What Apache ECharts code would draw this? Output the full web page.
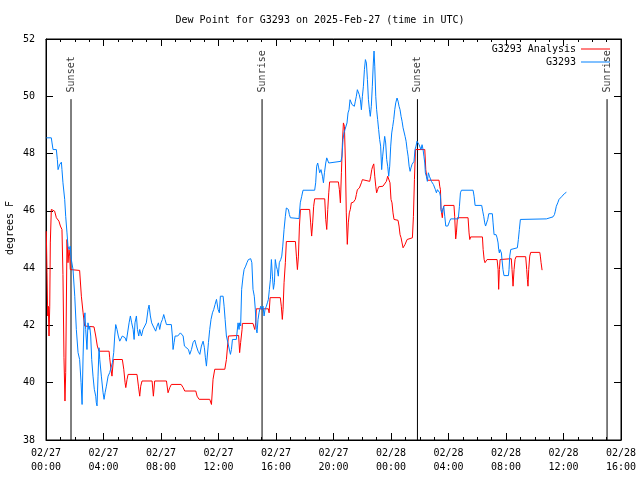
<!DOCTYPE html>
<html>
<head>
<meta charset="utf-8">
<script src="https://cdn.jsdelivr.net/npm/echarts@6/dist/echarts.min.js"></script>
<style>html,body{margin:0;padding:0;background:#fff}#c{width:640px;height:480px}</style>
</head>
<body>
<div id="c"></div>
<script>
// hours since 2025-02-27 00:00 UTC
const xTickHours = [0, 4, 8, 12, 16, 20, 24, 28, 32, 36, 40];
const yTicks = [38, 40, 42, 44, 46, 48, 50, 52];

const analysisHours = [0.02,0.07,0.12,0.16,0.21,0.26,0.30,0.37,0.49,0.60,0.72,0.90,1.00,1.11,1.18,1.25,1.32,1.37,1.46,1.53,1.60,1.65,1.69,2.34,2.46,2.58,2.69,3.34,3.46,3.57,3.69,4.39,4.43,4.52,4.59,4.69,5.31,5.41,5.50,5.55,5.64,5.71,6.33,6.43,6.52,6.59,6.68,7.38,7.47,7.56,8.38,8.49,8.61,8.72,9.40,9.54,9.65,10.42,10.51,10.65,11.39,11.51,11.62,11.74,12.44,12.55,12.69,13.40,13.47,13.54,13.64,13.66,14.40,14.45,14.52,14.59,14.63,15.47,15.52,15.59,16.30,16.37,16.44,16.49,16.56,16.65,16.72,17.35,17.42,17.49,17.56,17.63,17.70,18.34,18.41,18.48,18.55,18.62,18.69,19.39,19.46,19.53,19.60,19.67,19.73,20.34,20.41,20.48,20.55,20.62,20.69,20.76,20.83,20.89,20.96,21.03,21.10,21.17,21.24,21.38,21.45,21.52,21.59,21.66,21.80,21.87,21.94,22.01,22.08,22.52,22.59,22.66,22.73,22.80,22.87,22.94,23.00,23.07,23.14,23.44,23.56,23.68,23.77,23.86,23.93,24.00,24.07,24.14,24.21,24.28,24.49,24.56,24.63,24.70,24.77,24.84,24.91,24.98,25.05,25.12,25.19,25.49,25.56,25.63,25.70,26.35,26.42,26.48,26.55,27.34,27.39,27.44,27.48,27.57,27.62,27.69,28.38,28.43,28.50,28.55,28.62,29.36,29.43,29.48,29.54,30.36,30.41,30.48,30.54,30.59,30.68,31.38,31.45,31.49,31.54,31.59,31.66,32.37,32.42,32.49,32.56,32.63,32.70,33.37,33.44,33.49,33.53,33.58,33.65,33.72,34.35,34.39,34.44,34.51];
const analysisValues = [45.29,43.84,42.33,42.67,41.63,42.67,44.88,46.05,46.10,45.99,45.76,45.64,45.47,45.35,43.78,40.87,39.36,40.35,45.00,44.19,44.65,44.42,43.95,43.92,43.02,42.44,41.98,41.95,41.63,41.28,41.10,41.10,40.87,40.47,40.23,40.81,40.81,40.47,40.00,39.83,40.12,40.29,40.29,39.88,39.53,39.88,40.06,40.06,39.53,40.06,40.06,39.65,39.83,39.94,39.94,39.83,39.71,39.71,39.53,39.42,39.42,39.24,40.12,40.47,40.47,40.81,41.63,41.65,41.05,41.40,41.86,42.07,42.07,41.98,41.86,42.09,42.58,42.58,42.44,42.97,42.97,42.67,42.21,42.56,43.49,44.19,44.93,44.93,44.42,43.95,44.42,45.47,46.05,46.05,45.58,45.12,45.58,46.16,46.42,46.42,45.70,45.35,46.05,46.63,47.01,47.01,46.74,46.28,47.33,48.37,49.07,48.95,47.67,45.93,44.83,45.58,45.93,46.05,46.28,46.30,46.28,46.40,46.57,46.74,46.80,46.86,46.98,47.09,47.03,47.03,47.21,47.44,47.56,47.64,47.21,46.86,46.63,46.74,46.84,46.86,46.92,47.03,47.21,47.15,46.98,46.40,46.28,45.93,45.70,45.67,45.67,45.47,45.17,45.06,44.88,44.71,44.74,44.83,44.88,45.00,45.06,45.06,45.81,47.09,48.14,48.14,47.44,47.21,47.07,47.07,46.86,46.74,46.05,45.76,46.05,46.19,46.19,45.81,45.02,45.23,45.76,45.76,45.23,45.00,45.09,45.09,44.65,44.30,44.19,44.24,44.30,44.30,43.95,43.26,43.95,44.30,44.33,44.33,43.95,43.37,43.95,44.30,44.40,44.40,43.95,43.60,43.37,43.95,44.42,44.55,44.55,44.42,44.19,43.93];

const stationHours = [0.02,0.37,0.42,0.49,0.72,0.79,0.84,0.95,1.07,1.11,1.18,1.30,1.37,1.46,1.53,1.60,1.69,1.76,1.88,2.00,2.11,2.23,2.34,2.44,2.51,2.58,2.65,2.71,2.76,2.85,2.92,2.99,3.04,3.11,3.18,3.27,3.36,3.46,3.50,3.55,3.62,3.69,3.74,3.85,3.97,4.04,4.11,4.20,4.32,4.43,4.55,4.62,4.71,4.78,4.85,4.94,5.03,5.13,5.22,5.31,5.41,5.50,5.59,5.68,5.78,5.87,5.96,6.06,6.13,6.19,6.29,6.36,6.45,6.52,6.64,6.75,6.87,6.98,7.10,7.17,7.26,7.35,7.45,7.56,7.63,7.73,7.82,7.91,8.00,8.10,8.19,8.28,8.38,8.72,8.79,8.84,8.91,8.98,9.07,9.16,9.26,9.35,9.44,9.54,9.63,9.72,9.91,10.00,10.12,10.23,10.35,10.46,10.58,10.70,10.81,10.93,11.02,11.09,11.16,11.23,11.30,11.39,11.48,11.58,11.67,11.76,11.86,11.97,12.06,12.13,12.32,12.39,12.46,12.55,12.65,12.74,12.83,12.90,12.97,13.24,13.36,13.43,13.47,13.54,13.61,13.71,13.78,13.89,13.98,14.08,14.24,14.32,14.40,14.49,14.56,14.63,14.68,14.75,14.82,14.87,14.94,15.01,15.10,15.17,15.24,15.33,15.40,15.47,15.54,15.61,15.68,15.75,15.82,15.89,15.95,16.02,16.09,16.16,16.23,16.33,16.40,16.47,16.56,16.65,16.72,16.79,16.86,16.93,17.00,17.60,17.69,17.79,17.88,18.69,18.76,18.83,18.90,18.97,19.04,19.13,19.23,19.30,19.37,19.46,19.53,19.60,19.67,19.73,20.52,20.59,20.66,20.73,20.80,20.87,20.94,21.01,21.08,21.15,21.22,21.29,21.36,21.45,21.52,21.59,21.66,21.72,21.79,21.87,21.94,22.01,22.08,22.15,22.22,22.29,22.36,22.43,22.50,22.56,22.63,22.70,22.77,22.82,22.87,22.94,23.00,23.07,23.14,23.21,23.28,23.35,23.42,23.49,23.56,23.63,23.70,23.77,23.84,23.91,23.98,24.05,24.12,24.19,24.26,24.33,24.42,24.49,24.56,24.63,24.70,24.77,24.84,24.91,24.98,25.05,25.12,25.19,25.26,25.33,25.39,25.46,25.53,25.60,25.67,25.74,25.81,25.88,25.95,26.09,26.16,26.23,26.29,26.35,26.39,26.46,26.53,26.60,26.67,26.81,26.95,27.02,27.09,27.16,27.23,27.29,27.39,27.44,27.48,27.53,27.60,27.67,27.74,27.81,27.95,28.01,28.08,28.15,28.68,28.76,28.83,28.90,29.71,29.78,29.85,30.31,30.38,30.45,30.52,30.58,30.66,30.73,30.80,31.05,31.10,31.17,31.31,31.38,31.45,31.49,31.54,31.58,31.68,31.72,31.79,31.86,32.17,32.21,32.26,32.33,32.40,32.79,32.86,32.93,33.00,33.07,34.81,35.27,35.37,35.43,35.50,35.60,35.69,35.79,35.90,35.97,36.06,36.20];
const stationValues = [48.55,48.55,48.37,48.14,48.14,47.79,47.44,47.62,47.70,47.44,46.98,46.40,45.81,45.23,44.77,44.65,44.77,44.30,43.95,43.02,41.86,41.05,40.81,40.00,39.24,40.93,42.21,42.44,41.86,41.16,42.09,41.86,41.98,41.63,40.81,40.23,39.77,39.53,39.30,39.19,40.23,41.22,40.81,40.23,39.65,39.42,39.65,39.88,40.23,40.35,40.41,40.70,41.05,41.63,42.03,41.86,41.63,41.45,41.51,41.63,41.69,41.57,41.45,41.40,42.09,42.33,42.09,41.86,41.51,42.09,42.33,41.86,41.63,41.86,41.63,41.86,41.98,42.09,42.56,42.71,42.33,42.09,41.98,41.98,41.80,41.98,42.09,41.86,42.09,42.21,42.38,42.21,42.03,42.03,41.63,41.16,41.40,41.63,41.69,41.63,41.57,41.74,41.69,41.63,41.28,41.22,41.16,40.99,41.16,41.40,41.49,41.28,41.10,40.99,41.28,41.45,41.22,40.87,40.58,40.58,41.40,41.86,42.21,42.44,42.56,42.73,42.91,42.56,42.44,43.02,43.02,42.67,42.21,41.63,41.40,41.40,40.99,41.16,41.51,41.51,42.09,41.86,42.09,41.98,43.26,43.72,43.95,44.07,44.19,44.30,44.33,44.19,43.26,43.02,42.56,41.86,41.74,42.21,42.44,42.56,42.67,42.56,42.67,42.33,42.56,42.67,42.79,42.91,43.26,43.60,44.30,43.72,43.26,43.49,44.30,44.07,43.95,43.72,44.19,44.30,44.42,44.77,45.35,45.81,46.10,46.16,46.05,45.87,45.76,45.73,46.28,46.51,46.72,46.72,46.98,47.56,47.67,47.50,47.33,47.44,47.21,46.98,47.33,47.67,47.85,47.91,47.67,47.70,47.73,47.91,48.49,48.72,48.84,48.84,49.07,49.42,49.53,49.88,49.94,49.71,49.65,49.65,49.83,50.00,50.23,50.29,50.06,49.88,49.53,50.00,50.35,50.93,51.28,51.16,50.58,49.88,49.53,49.30,49.65,50.35,51.16,51.58,51.05,50.00,49.53,49.19,48.84,48.49,48.26,47.44,47.91,48.26,48.60,48.37,47.79,47.56,47.21,47.56,48.26,48.72,48.95,49.19,49.53,49.77,49.94,49.83,49.65,49.53,49.30,49.13,48.90,48.84,48.60,48.43,48.14,47.91,47.56,47.38,47.50,47.62,47.67,47.73,48.14,48.26,48.43,48.49,48.31,48.14,48.31,48.14,47.91,47.67,47.33,47.21,47.03,47.33,47.21,47.03,46.92,46.86,46.74,46.63,46.74,46.80,46.63,46.51,46.05,45.93,45.99,46.16,45.81,45.47,45.47,45.52,45.64,45.72,45.72,46.16,46.63,46.72,46.72,46.51,46.19,46.19,45.99,45.81,45.58,45.47,45.47,45.70,45.90,45.90,45.58,45.17,45.17,45.06,44.88,44.65,44.53,44.65,44.53,44.30,43.95,43.74,43.74,43.95,44.42,44.65,44.71,44.71,45.00,45.35,45.70,45.72,45.72,45.79,45.87,45.99,46.16,46.28,46.40,46.45,46.51,46.57,46.60,46.65];

const sunEventHours = [1.74, 15.03, 25.84, 39.03];
const sunEventNames = ['Sunset', 'Sunrise', 'Sunset', 'Sunrise'];
const sunLineTop = 49.9;   // value where the marker line stops under its label
const sunLabelAt = 50.1;

const FONT = 'DejaVu Sans Mono';
const yMin = yTicks[0], yMax = yTicks[yTicks.length - 1];
const xMin = xTickHours[0], xMax = xTickHours[xTickHours.length - 1];

function pairs(xs, ys) { return xs.map((x, i) => [x, ys[i]]); }
function pad(n) { return (n < 10 ? '0' : '') + n; }
function xLabel(h) {
  const day = 27 + Math.floor(h / 24);
  const hh = Math.round(h % 24);
  return '02/' + pad(day) + '\n' + pad(hh) + ':00';
}

const chart = echarts.init(document.getElementById('c'), null, {renderer: 'canvas'});

const series = [
  {
    name: 'G3293 Analysis', type: 'line', data: pairs(analysisHours, analysisValues),
    showSymbol: false, symbol: 'none', color: '#ff0000',
    lineStyle: {width: 1, color: '#ff0000'}, animation: false, z: 3
  },
  {
    name: 'G3293', type: 'line', data: pairs(stationHours, stationValues),
    showSymbol: false, symbol: 'none', color: '#0080ff',
    lineStyle: {width: 1, color: '#0080ff'}, animation: false, z: 4
  }
];

sunEventHours.forEach((h, i) => {
  series.push({
    type: 'line', data: [[h, sunLineTop], [h, yMin]], symbol: 'none',
    lineStyle: {width: 1, color: '#000'}, animation: false, silent: true, z: 2
  });
  series.push({
    type: 'scatter', data: [[h, sunLabelAt]], symbolSize: 0, silent: true, animation: false,
    label: {
      show: true, formatter: sunEventNames[i], rotate: 90, position: 'inside',
      align: 'left', verticalAlign: 'middle', offset: [1, 0],
      fontFamily: FONT, fontSize: 10, color: '#000'
    }, z: 5
  });
});

function xAxisDef(pos, showLabels) {
  return {
    type: 'value', min: xMin, max: xMax, interval: 4, position: pos,
    axisLine: {show: true, onZero: false, lineStyle: {color: '#000', width: 1}},
    axisTick: {show: true, inside: true, length: 7, lineStyle: {color: '#000', width: 1}},
    minorTick: {show: true, splitNumber: 4, length: 3, lineStyle: {color: '#000', width: 1}},
    splitLine: {show: false},
    axisLabel: {
      show: showLabels, margin: 6, formatter: xLabel, fontFamily: FONT, fontSize: 10,
      color: '#000', lineHeight: 14, showMinLabel: true, showMaxLabel: true
    }
  };
}
function yAxisDef(pos, showLabels) {
  return {
    type: 'value', min: yMin, max: yMax, interval: 2, position: pos,
    axisLine: {show: true, onZero: false, lineStyle: {color: '#000', width: 1}},
    axisTick: {show: true, inside: true, length: 7, lineStyle: {color: '#000', width: 1}},
    splitLine: {show: false},
    axisLabel: {show: showLabels, margin: 11, fontFamily: FONT, fontSize: 10, color: '#000',
      showMinLabel: true, showMaxLabel: true}
  };
}

chart.setOption({
  backgroundColor: '#ffffff',
  animation: false,
  title: {
    text: 'Dew Point for G3293 on 2025-Feb-27 (time in UTC)',
    left: 'center', top: 10,
    textStyle: {fontFamily: FONT, fontSize: 10, fontWeight: 'normal', color: '#000'}
  },
  legend: {
    data: ['G3293 Analysis', 'G3293'],
    orient: 'vertical', right: 30, top: 43, align: 'right', padding: 0,
    icon: 'rect', itemWidth: 29, itemHeight: 1, itemGap: 1,
    textStyle: {fontFamily: FONT, fontSize: 10, color: '#000', lineHeight: 12}
  },
  graphic: [{
    type: 'text', x: 10, y: 228, rotation: Math.PI / 2,
    style: {text: 'degrees F', fontFamily: FONT, fontSize: 10, fill: '#000',
      align: 'center', verticalAlign: 'middle'}
  }],
  grid: {
    left: 46, right: 19, top: 39, bottom: 40, containLabel: false,
    outerBoundsMode: 'none',
    show: true, borderColor: '#000', borderWidth: 1, backgroundColor: 'transparent'
  },
  xAxis: [xAxisDef('bottom', true), xAxisDef('top', false)],
  yAxis: [yAxisDef('left', true), yAxisDef('right', false)],
  series: series
});
</script>
</body>
</html>
